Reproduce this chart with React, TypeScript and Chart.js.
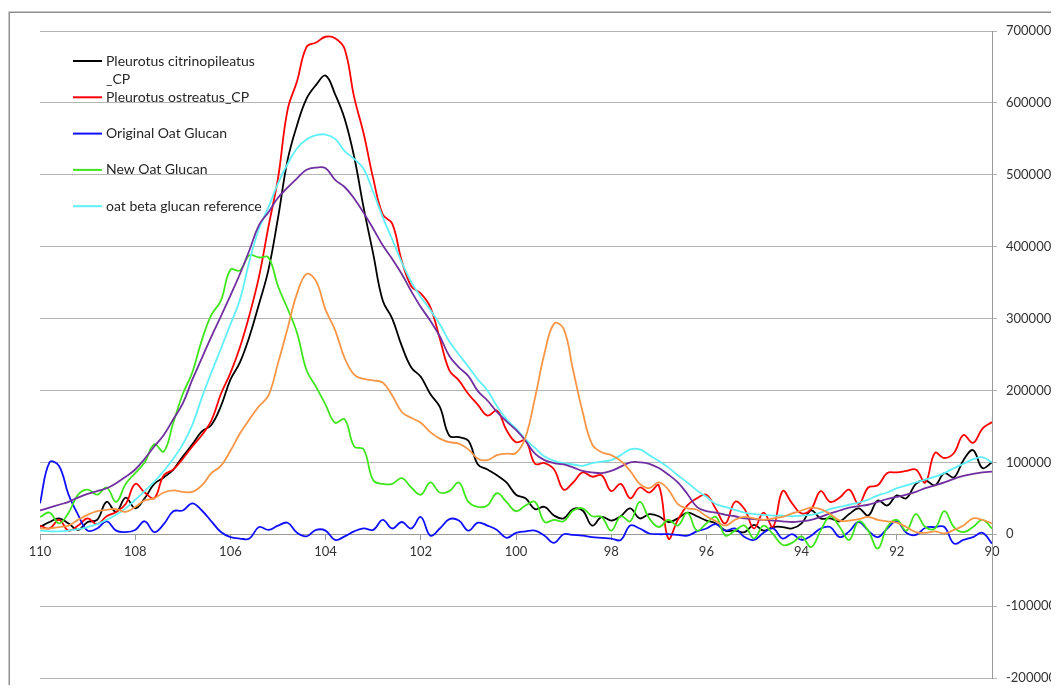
import React, { useEffect, useRef } from 'react';
import { Chart, registerables } from 'chart.js';

Chart.register(...registerables);

// Chemical shift (x) sample positions
const shifts = [
  110, 109.8, 109.6, 109.4, 109.2, 109, 108.8, 108.6, 108.4, 108.2,
  108, 107.8, 107.6, 107.4, 107.2, 107, 106.8, 106.6, 106.4, 106.2,
  106, 105.8, 105.6, 105.4, 105.2, 105, 104.8, 104.6, 104.4, 104.2,
  104, 103.8, 103.6, 103.4, 103.2, 103, 102.8, 102.6, 102.4, 102.2,
  102, 101.8, 101.6, 101.4, 101.2, 101, 100.8, 100.6, 100.4, 100.2,
  100, 99.8, 99.6, 99.4, 99.2, 99, 98.8, 98.6, 98.4, 98.2,
  98, 97.8, 97.6, 97.4, 97.2, 97, 96.8, 96.6, 96.4, 96.2,
  96, 95.8, 95.6, 95.4, 95.2, 95, 94.8, 94.6, 94.4, 94.2,
  94, 93.8, 93.6, 93.4, 93.2, 93, 92.8, 92.6, 92.4, 92.2,
  92, 91.8, 91.6, 91.4, 91.2, 91, 90.8, 90.6, 90.4, 90.2,
  90,
];

// Intensities, in thousands
const citrinopileatus = [
  10, 17, 22, 15, 6, 17, 20, 45, 31, 51,
  36, 50, 70, 79, 90, 108, 125, 143, 152, 178,
  215, 239, 275, 320, 368, 440, 520, 569, 606, 625,
  638, 612, 578, 525, 454, 390, 325, 300, 262, 232,
  219, 195, 177, 137, 135, 130, 97, 90, 82, 72,
  55, 50, 35, 38, 26, 22, 35, 33, 12, 24,
  19, 25, 36, 22, 28, 25, 17, 22, 30, 25,
  19, 15, 5, 5, 3, 13, 5, 10, 10, 8,
  15, 33, 22, 22, 18, 28, 36, 26, 47, 40,
  54, 50, 70, 75, 68, 85, 79, 103, 117, 92,
  100,
];

const ostreatus = [
  12, 8, 20, 5, 12, 22, 14, 25, 31, 42,
  70, 58, 50, 82, 90, 105, 122, 138, 158, 195,
  224, 260, 305, 358, 428, 495, 590, 630, 678, 684,
  692, 690, 675, 608, 557, 495, 445, 432, 380, 345,
  335, 316, 272, 228, 214, 195, 180, 165, 172, 145,
  128, 130, 98, 99, 90, 62, 72, 86, 80, 82,
  60, 70, 50, 65, 58, 68, -6, 20, 40, 50,
  55, 35, 15, 45, 35, 8, 30, 10, 60, 43,
  29, 35, 60, 45, 51, 62, 42, 65, 68, 85,
  86, 88, 90, 72, 113, 106, 113, 138, 127, 147,
  156,
];

const originalOat = [
  43, 100, 95, 55, 27, 5, 8, 18, 5, 3,
  6, 18, 3, 14, 32, 33, 43, 33, 18, 3,
  -4, -6, -6, 10, 6, 12, 16, 2, -3, 6,
  5, -8, -3, 4, 8, 6, 20, 8, 17, 8,
  24, -2, 8, 21, 19, 5, 16, 12, 6, -5,
  2, 4, 5, -2, -12, 0, -1, -2, -4, -5,
  -6, -8, 12, 8, 1, 0, 0, -1, -2, 4,
  8, 14, 5, 8, -4, -8, 2, 8, -6, 0,
  -8, -2, 8, 10, -4, 4, 17, 5, -4, 8,
  18, 2, -1, 9, 10, 10, -13, -8, -4, 2,
  -13,
];

const newOat = [
  24, 30, 15, 30, 55, 62, 55, 65, 45, 70,
  85, 100, 125, 115, 155, 195, 225, 270, 305, 325,
  368, 367, 388, 385, 385, 345, 314, 280, 228, 205,
  180, 155, 160, 122, 118, 75, 70, 70, 78, 65,
  55, 72, 58, 60, 72, 45, 38, 40, 57, 45,
  32, 40, 45, 17, 20, 18, 33, 36, 25, 24,
  5, 25, 18, 45, 22, 10, 20, 12, 30, 5,
  15, 24, -2, 5, 12, -6, 12, 0, -15, -12,
  -3, -18, 5, 25, 10, -8, 18, 5, -20, 10,
  20, 5, 28, 10, 8, 32, 10, 3, 10, 20,
  8,
];

const oatReference = [
  5, 4, 4, 5, 7, 10, 14, 20, 27, 36,
  48, 60, 73, 88, 105, 125, 152, 190, 225, 258,
  292, 326, 380, 425, 455, 488, 515, 537, 549, 555,
  556, 550, 533, 522, 508, 476, 441, 410, 378, 351,
  330, 312, 292, 268, 250, 233, 215, 200, 178, 160,
  147, 132, 120, 108, 102, 99, 97, 95, 99, 101,
  103, 110, 118, 118, 110, 102, 93, 82, 72, 61,
  52, 42, 38, 34, 30, 28, 27, 26, 26, 25,
  26, 27, 30, 35, 38, 41, 44, 48, 54, 58,
  64, 68, 72, 76, 80, 85, 92, 98, 104, 107,
  100,
];

const purpleSeries = [
  33, 37, 41, 45, 51, 56, 60, 64, 71, 80,
  90, 105, 122, 138, 160, 182, 215, 245, 275, 303,
  332, 362, 395, 430, 448, 468, 482, 495, 507, 510,
  509, 493, 483, 467, 447, 425, 402, 383, 362, 338,
  316, 297, 275, 248, 232, 220, 199, 186, 170, 157,
  145, 130, 112, 103, 99, 97, 93, 88, 86, 85,
  88, 94, 100, 100, 98, 92, 83, 72, 56, 38,
  32, 30, 27, 25, 22, 21, 20, 19, 18, 17,
  18, 20, 24, 29, 33, 37, 39, 41, 45, 49,
  52, 55, 59, 64, 68, 72, 77, 81, 84, 86,
  87,
];

const orangeSeries = [
  8, 8, 10, 12, 20, 27, 32, 34, 35, 31,
  38, 47, 50, 58, 61, 59, 59, 68, 85, 95,
  116, 140, 160, 178, 193, 238, 286, 335, 362, 352,
  312, 284, 245, 222, 216, 214, 211, 193, 170, 162,
  155, 142, 133, 128, 126, 118, 105, 103, 110, 112,
  113, 135, 190, 252, 293, 286, 228, 170, 125, 114,
  110, 102, 88, 70, 64, 72, 62, 42, 36, 34,
  25, 18, 12, 20, 24, 22, 20, 22, 24, 29,
  33, 37, 35, 28, 19, 19, 21, 24, 20, 18,
  16, 10, 3, 2, 4, 1, 6, 12, 22, 20,
  15,
];

const seriesLabels = [
  'Pleurotus citrinopileatus _CP',
  'Pleurotus ostreatus_CP',
  'Original Oat Glucan',
  'New Oat Glucan',
  'oat beta glucan reference',
  '',
  '',
];
const seriesColors = ['#000000', '#ff0000', '#1010ff', '#3fe61c', '#5ef0f6', '#7030a0', '#f79646'];
const seriesData = [citrinopileatus, ostreatus, originalOat, newOat, oatReference, purpleSeries, orangeSeries];

const xTickMin = 90;
const xTickMax = 110;
const xTickStep = 2;
const yTickMin = -200000;
const yTickMax = 700000;
const yTickStep = 100000;

const FONT = 'Lato, "Open Sans", sans-serif';

const frameBorder = {
  id: 'frameBorder',
  beforeDraw(chart: any) {
    const ctx = chart.ctx;
    ctx.save();
    ctx.strokeStyle = '#8f8f8f';
    ctx.lineWidth = 1.5;
    ctx.strokeRect(1.25, 4.25, 1200, 900);
    ctx.restore();
  },
};

const insideLegend = {
  id: 'insideLegend',
  afterDatasetsDraw(chart: any) {
    const ctx = chart.ctx;
    ctx.save();
    ctx.font = '14px ' + FONT;
    ctx.textBaseline = 'middle';
    ctx.textAlign = 'left';
    const x0 = 65;
    const x1 = 94;
    const tx = 98;
    const maxW = 170;
    let y = 53;
    chart.data.datasets.forEach((ds: any) => {
      if (!ds.label) return;
      ctx.strokeStyle = ds.borderColor;
      ctx.lineWidth = 2;
      ctx.beginPath();
      ctx.moveTo(x0, y);
      ctx.lineTo(x1, y);
      ctx.stroke();
      ctx.fillStyle = '#262626';
      const words = ds.label.split(' ');
      const lines: string[] = [];
      let cur = '';
      words.forEach((w: string) => {
        const test = cur ? cur + ' ' + w : w;
        if (cur && ctx.measureText(test).width > maxW) {
          lines.push(cur);
          cur = w;
        } else {
          cur = test;
        }
      });
      if (cur) lines.push(cur);
      lines.forEach((ln, k) => ctx.fillText(ln, tx, y + k * 18));
      y += 36.3;
    });
    ctx.restore();
  },
};

export default function App() {
  const ref = useRef<HTMLCanvasElement | null>(null);

  useEffect(() => {
    if (!ref.current) return;
    const datasets = seriesData.map((vals, i) => ({
      label: seriesLabels[i],
      data: vals.map((v, k) => ({ x: shifts[k], y: v * 1000 })),
      borderColor: seriesColors[i],
      backgroundColor: seriesColors[i],
      borderWidth: 1.8,
      pointRadius: 0,
      tension: 0.4,
      fill: false,
      order: 7 - i,
    }));
    const chart = new Chart(ref.current, {
      type: 'line',
      data: { datasets },
      options: {
        animation: false,
        responsive: false,
        devicePixelRatio: 1,
        layout: { padding: { left: 32, top: 23, right: 0, bottom: 7 } },
        plugins: { legend: { display: false }, tooltip: { enabled: false } },
        scales: {
          x: {
            type: 'linear',
            position: { y: 0 } as any,
            reverse: true,
            min: xTickMin,
            max: xTickMax,
            ticks: {
              stepSize: xTickStep,
              color: '#333333',
              font: { family: FONT, size: 13 },
              padding: 5,
              maxRotation: 0,
              callback: (v: any) => String(v),
            },
            grid: { drawOnChartArea: false, drawTicks: true, tickLength: 5, color: '#9a9a9a' },
            border: { color: '#9a9a9a', width: 1 },
          },
          y: {
            type: 'linear',
            position: 'right',
            min: yTickMin,
            max: yTickMax,
            ticks: {
              stepSize: yTickStep,
              color: '#333333',
              font: { family: FONT, size: 13 },
              padding: 9,
              callback: (v: any) => String(v),
            },
            grid: { color: '#b5b5b5', tickLength: 5, lineWidth: 1 },
            border: { color: '#9a9a9a', width: 1 },
            afterFit: (scale: any) => {
              scale.width = 67;
              scale.paddingTop = 0;
              scale.paddingBottom = 0;
            },
          },
        },
      },
      plugins: [frameBorder, insideLegend],
    });
    return () => chart.destroy();
  }, []);

  return (
    <div style={{ width: 1051, height: 677 }}>
      <canvas ref={ref} width={1051} height={677} style={{ display: 'block' }} />
    </div>
  );
}
